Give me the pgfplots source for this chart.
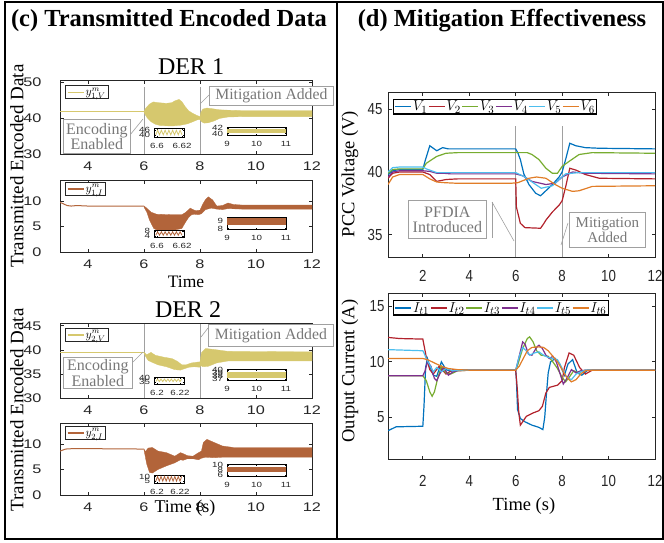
\documentclass[border=0pt]{standalone}
\usepackage{pgfplots}
\pgfplotsset{compat=1.18}
\usepackage{fontspec}
\setmainfont{Liberation Serif}
\newfontfamily\tickL[FakeStretch=1.3]{Liberation Sans}
\newfontfamily\tickR[FakeStretch=0.83]{Liberation Sans}
\definecolor{cY}{RGB}{214,200,110}
\definecolor{cB}{RGB}{178,100,58}
\definecolor{c1}{RGB}{0,114,189}
\definecolor{c2}{RGB}{178,34,44}
\definecolor{c3}{RGB}{119,172,48}
\definecolor{c4}{RGB}{126,47,142}
\definecolor{c5}{RGB}{77,190,238}
\definecolor{c6}{RGB}{225,125,40}
\definecolor{axgray}{RGB}{38,38,38}
\definecolor{anngray}{RGB}{160,160,160}
\definecolor{anntext}{RGB}{120,120,120}
\pgfplotsset{
  legend image code/.code={\draw[#1, line width=1.3pt] (0pt,0pt) -- (16pt,0pt);},
  base/.style={scale only axis, axis line style={axgray, line width=0.9pt},
    every tick/.style={axgray, line width=0.8pt}, major tick length=3.5pt,
    /pgf/number format/assume math mode=true},
  leftax/.style={base, width=252pt, xmin=3, xmax=12, xtick={4,6,8,10,12},
    tick label style={font=\tickL\fontsize{12.5}{13}\selectfont, text=axgray},
    xticklabel style={yshift=-4.5pt}, yticklabel style={xshift=-15pt},
    legend style={anchor=north west, draw=axgray, line width=0.8pt, fill=white,
      inner xsep=1.5pt, inner ysep=0.5pt, font=\fontsize{12}{12}\selectfont,
      nodes={inner sep=1.5pt}, cells={anchor=west}}},
  rightax/.style={base, width=267pt, xmin=0.5, xmax=12, xtick={2,4,6,8,10,12},
    tick label style={font=\tickR\fontsize{16}{16}\selectfont, text=axgray},
    legend columns=6,
    legend style={at={(0.019,0.958)}, anchor=north west, draw=black, line width=1.4pt, fill=white,
      inner xsep=1pt, inner ysep=0.5pt, font=\fontsize{15}{15}\selectfont,
      nodes={inner sep=1pt}, /tikz/every even column/.append style={column sep=0pt}}},
  inset/.style={scale only axis, axis line style={black, line width=1pt},
    every tick/.style={black, line width=0.4pt}, major tick length=1.5pt,
    /pgf/number format/assume math mode=true,
    tick label style={font=\tickL\fontsize{7.5}{7.5}\selectfont, text=axgray},
    xticklabel style={yshift=-2.5pt}, yticklabel style={xshift=-0.5pt}},
}
\begin{document}
\begin{tikzpicture}
\useasboundingbox (0pt,0pt) rectangle (664pt,-542pt);
% ---------------- P1: DER1 V
\begin{axis}[leftax, at={(60pt,-154pt)}, anchor=south west, height=74pt,
  ymin=30, ymax=50.6, ytick={30,40,50}, legend style={at={(0.02,0.93)}}]
\draw[anngray, line width=0.6pt] (axis cs:6,30) -- (axis cs:6,48.6);
\draw[anngray, line width=0.6pt] (axis cs:8,30) -- (axis cs:8,48.6);
\addplot[cY, line width=1pt] coordinates {(3,41.9)(6,41.9)};
\addlegendentry{$y^{m}_{1,V}$}
\addplot[fill=cY, draw=cY, line width=0.3pt, forget plot] coordinates {
(6.0,41.9)(6.05,42.6)(6.1,43.1)(6.2,43.9)(6.33,44.5)(6.5,44.3)(6.8,44.1)(7.0,44.3)(7.1,44.8)(7.25,45.2)(7.35,44.6)(7.48,43.1)(7.6,42.0)(7.7,41.5)(7.87,40.8)(8.0,40.4)(8.03,41.6)(8.1,42.5)(8.25,42.8)(8.45,42.6)(8.7,42.3)(9.0,42.2)(9.5,42.1)(12,42.1)
(12,40.4)(9.5,40.4)(9.0,40.3)(8.7,39.9)(8.5,39.2)(8.3,38.7)(8.15,38.6)(8.05,39.0)(8.0,39.6)(7.9,39.5)(7.75,39.0)(7.55,38.4)(7.3,38.0)(7.0,37.8)(6.6,37.9)(6.4,38.3)(6.25,39.0)(6.12,40.0)(6.04,41.0)(6.0,41.6)};
\end{axis}
\begin{axis}[inset, at={(154pt,-137pt)}, anchor=south west, width=30pt, height=9pt,
  xmin=6.5976, xmax=6.6216, ymin=37, ymax=49, xtick={6.6,6.62}, xticklabels={6.6,6.62}, ytick={40,46}]
\addplot[cY, line width=0.8pt] coordinates {(6.599,40)(6.6005,46)(6.602,40)(6.6035,46)(6.605,40)(6.6065,46)(6.608,40)(6.6095,46)(6.611,40)(6.6125,46)(6.614,40)(6.6155,46)(6.617,40)(6.6185,46)(6.620,40)};
\end{axis}
\begin{axis}[inset, at={(227pt,-135pt)}, anchor=south west, width=59pt, height=8pt,
  xmin=9, xmax=11, ymin=39.5, ymax=42.5, xtick={9,10,11}, ytick={40,42}]
\addplot[fill=cY, draw=none] coordinates {(9,40.4)(11,40.4)(11,41.6)(9,41.6)};
\end{axis}
% ---------------- P2: DER1 I
\begin{axis}[leftax, at={(60pt,-252pt)}, anchor=south west, height=72pt,
  ymin=0, ymax=14.1, ytick={0,5,10}, legend style={at={(0.02,0.972)}}]
\addplot[cB, line width=1pt] coordinates {(3,9.7)(3.1,9.5)(3.25,9.1)(3.4,9.0)(3.6,9.1)(4,9.0)(6.0,9.0)};
\addlegendentry{$y^{m}_{1,I}$}
\addplot[fill=cB, draw=cB, line width=0.3pt, forget plot] coordinates {
(6.0,9.0)(6.1,8.6)(6.25,7.8)(6.45,7.4)(7.0,7.3)(7.35,7.3)(7.5,7.8)(7.65,8.6)(7.75,8.3)(7.85,8.1)(8.0,8.2)(8.1,9.4)(8.2,10.3)(8.3,10.8)(8.45,10.2)(8.6,9.0)(8.8,9.1)(9.0,9.6)(9.2,9.3)(9.5,9.2)(12,9.2)
(12,8.4)(9.5,8.4)(9.0,8.5)(8.8,8.3)(8.6,8.4)(8.4,8.6)(8.2,8.3)(8.05,7.5)(7.95,7.3)(7.8,7.4)(7.7,7.3)(7.6,6.8)(7.5,6.0)(7.35,4.6)(7.0,4.2)(6.5,4.2)(6.35,4.6)(6.2,6.2)(6.1,7.8)(6.0,8.8)};
\end{axis}
\begin{axis}[inset, at={(154pt,-237pt)}, anchor=south west, width=30pt, height=7pt,
  xmin=6.5976, xmax=6.6216, ymin=3, ymax=9, xtick={6.6,6.62}, xticklabels={6.6,6.62}, ytick={4,8}]
\addplot[cB, line width=0.8pt] coordinates {(6.599,4.5)(6.6005,7.5)(6.602,4.5)(6.6035,7.5)(6.605,4.5)(6.6065,7.5)(6.608,4.5)(6.6095,7.5)(6.611,4.5)(6.6125,7.5)(6.614,4.5)(6.6155,7.5)(6.617,4.5)(6.6185,7.5)(6.620,4.5)};
\end{axis}
\begin{axis}[inset, at={(227pt,-229pt)}, anchor=south west, width=59pt, height=12pt,
  xmin=9, xmax=11, ymin=7.95, ymax=9.43, xtick={9,10,11}, ytick={8,9}]
\addplot[fill=cB, draw=none] coordinates {(9,8.4)(11,8.4)(11,9.28)(9,9.28)};
\end{axis}
% ---------------- P3: DER2 V
\begin{axis}[leftax, at={(60pt,-398pt)}, anchor=south west, height=75pt,
  ymin=30, ymax=45.6, ytick={30,35,40,45}, legend style={at={(0.02,0.933)}}]
\draw[anngray, line width=0.6pt] (axis cs:6,30) -- (axis cs:6,45.3);
\draw[anngray, line width=0.6pt] (axis cs:8,30) -- (axis cs:8,45.3);
\addplot[cY, line width=1pt] coordinates {(3,39.5)(6,39.5)};
\addlegendentry{$y^{m}_{2,V}$}
\addplot[fill=cY, draw=cY, line width=0.3pt, forget plot] coordinates {
(6.0,39.5)(6.1,39.0)(6.25,39.5)(6.4,38.9)(6.7,38.5)(7.0,38.2)(7.2,37.6)(7.35,36.9)(7.5,36.9)(7.7,37.3)(7.95,37.5)(8.0,37.5)(8.05,39.4)(8.2,40.3)(8.5,40.1)(9.0,39.7)(12,39.6)
(12,37.7)(9.0,37.7)(8.6,37.3)(8.3,36.6)(8.1,36.5)(8.02,36.8)(8.0,36.4)(7.8,36.5)(7.6,36.4)(7.45,36.1)(7.3,35.8)(7.1,35.9)(6.8,36.5)(6.5,36.9)(6.3,37.4)(6.15,37.8)(6.05,38.7)(6.0,39.4)};
\end{axis}
\begin{axis}[inset, at={(154pt,-384pt)}, anchor=south west, width=30pt, height=7pt,
  xmin=6.1974, xmax=6.2235, ymin=33, ymax=41.5, xtick={6.2,6.22}, xticklabels={6.2,6.22}, ytick={35,40}]
\addplot[cY, line width=0.8pt] coordinates {(6.199,36)(6.2005,39)(6.202,36)(6.2035,39)(6.205,36)(6.2065,39)(6.208,36)(6.2095,39)(6.211,36)(6.2125,39)(6.214,36)(6.2155,39)(6.217,36)(6.2185,39)(6.220,36)(6.2215,39)};
\end{axis}
\begin{axis}[inset, at={(227pt,-380pt)}, anchor=south west, width=59pt, height=11pt,
  xmin=9, xmax=11, ymin=36.7, ymax=40.3, xtick={9,10,11}, ytick={37,38,39,40}]
\addplot[fill=cY, draw=none] coordinates {(9,37.3)(11,37.3)(11,39.4)(9,39.4)};
\end{axis}
% ---------------- P4: DER2 I
\begin{axis}[leftax, at={(60pt,-495pt)}, anchor=south west, height=72pt,
  ymin=0, ymax=14.1, ytick={0,5,10}, legend style={at={(0.02,0.96)}}]
\addplot[cB, line width=1pt] coordinates {(3,8.6)(3.2,9.0)(3.5,9.1)(6,9.0)};
\addlegendentry{$y^{m}_{2,I}$}
\addplot[fill=cB, draw=cB, line width=0.3pt, forget plot] coordinates {
(6.0,9.0)(6.05,8.5)(6.15,9.2)(6.3,9.3)(6.5,8.6)(6.8,8.3)(7.1,7.6)(7.3,8.3)(7.4,8.1)(7.55,7.7)(7.75,7.6)(7.95,8.3)(8.05,8.6)(8.12,10.3)(8.25,10.9)(8.5,10.3)(8.8,9.6)(9.2,9.3)(12,9.3)
(12,7.4)(9.2,7.4)(8.8,7.4)(8.5,7.3)(8.2,7.4)(8.05,7.2)(7.95,6.9)(7.75,7.1)(7.55,7.1)(7.4,6.8)(7.3,6.9)(7.1,6.3)(6.8,5.7)(6.5,5.0)(6.3,4.3)(6.2,4.4)(6.1,6.0)(6.0,8.8)};
\end{axis}
\begin{axis}[inset, at={(154pt,-483pt)}, anchor=south west, width=30pt, height=8pt,
  xmin=6.1974, xmax=6.2235, ymin=3, ymax=11.5, xtick={6.2,6.22}, xticklabels={6.2,6.22}, ytick={5,10}]
\addplot[cB, line width=0.8pt] coordinates {(6.199,5)(6.2005,10)(6.202,5)(6.2035,10)(6.205,5)(6.2065,10)(6.208,5)(6.2095,10)(6.211,5)(6.2125,10)(6.214,5)(6.2155,10)(6.217,5)(6.2185,10)(6.220,5)(6.2215,10)};
\end{axis}
\begin{axis}[inset, at={(227pt,-476pt)}, anchor=south west, width=59pt, height=12pt,
  xmin=9, xmax=11, ymin=5.6, ymax=10.4, xtick={9,10,11}, ytick={6,8,10}]
\addplot[fill=cB, draw=none] coordinates {(9,7.1)(11,7.1)(11,9.1)(9,9.1)};
\end{axis}
% ---------------- P5: PCC voltage
\begin{axis}[rightax, at={(388pt,-257pt)}, anchor=south west, height=165pt,
  ymin=33.2, ymax=46.4, ytick={35,40,45}, xticklabel style={yshift=-10pt}, yticklabel style={xshift=-2pt}]
\draw[anngray, line width=0.6pt] (axis cs:6,33.2) -- (axis cs:6,43.7);
\draw[anngray, line width=0.6pt] (axis cs:8,33.2) -- (axis cs:8,43.7);
\addplot[c1, line width=1.2pt] coordinates {(0.5,39.8)(0.7,40.1)(1,40.2)(2,40.2)(2.1,40.9)(2.3,42.1)(2.45,41.9)(2.6,41.7)(2.85,41.95)(3.1,41.85)(6.0,41.85)(6.1,41.5)(6.2,41.0)(6.35,39.85)(6.57,39.0)(6.86,38.3)(7.07,38.1)(7.3,38.5)(7.58,39.0)(7.87,39.6)(8.0,40.0)(8.15,41.0)(8.33,42.3)(8.59,42.1)(9.0,41.95)(9.6,41.9)(12,41.85)};
\addlegendentry{$V_1$}
\addplot[c2, line width=1.2pt] coordinates {(0.5,39.5)(0.7,39.9)(1,40.0)(2,40.0)(2.3,39.8)(2.6,39.25)(3.0,39.4)(3.5,39.45)(6.0,39.45)(6.03,37.2)(6.2,35.9)(6.4,35.55)(7.07,35.5)(7.22,35.9)(7.3,36.15)(7.58,36.8)(7.87,37.35)(8.0,37.7)(8.15,38.8)(8.33,40.3)(8.6,40.15)(9.0,39.8)(9.6,39.5)(12,39.45)};
\addlegendentry{$V_2$}
\addplot[c3, line width=1.2pt] coordinates {(0.5,39.9)(0.7,40.2)(1,40.25)(2,40.25)(2.15,40.7)(2.6,41.25)(3.0,41.5)(3.5,41.55)(6.5,41.55)(6.7,41.4)(7.0,41.0)(7.3,40.3)(7.58,39.9)(7.8,39.9)(8.0,40.45)(8.3,40.85)(8.73,41.4)(9.3,41.55)(12,41.5)};
\addlegendentry{$V_3$}
\addplot[c4, line width=1.2pt] coordinates {(0.5,39.6)(0.7,40.0)(1,40.1)(2,40.1)(2.3,40.05)(2.6,39.9)(2.9,39.9)(3.2,39.85)(6.0,39.85)(6.3,39.7)(6.7,39.25)(7.3,39.0)(7.7,39.1)(8.0,39.6)(8.45,40.0)(9.0,39.9)(12,39.85)};
\addlegendentry{$V_4$}
\addplot[c5, line width=1.2pt] coordinates {(0.5,40.0)(0.7,40.35)(1,40.4)(2,40.4)(2.15,40.25)(2.6,39.95)(6.0,39.95)(6.4,39.6)(6.86,39.0)(7.1,38.7)(7.58,38.9)(7.87,39.4)(8.15,39.85)(8.7,39.95)(12,39.95)};
\addlegendentry{$V_5$}
\addplot[c6, line width=1.2pt] coordinates {(0.5,39.0)(0.7,39.6)(1,39.8)(2,39.8)(2.3,39.45)(2.6,39.2)(2.9,39.15)(3.45,39.1)(5.8,39.1)(6.1,39.15)(6.57,39.5)(6.9,39.6)(7.3,39.5)(7.7,39.0)(8.0,38.7)(8.45,38.45)(8.73,38.5)(9.3,38.85)(12,38.9)};
\addlegendentry{$V_6$}
\end{axis}
% ---------------- P6: Output current
\begin{axis}[rightax, at={(388pt,-459pt)}, anchor=south west, height=166pt,
  ymin=1.25, ymax=16.2, ytick={5,10,15}, xticklabel style={yshift=-13pt}]
\addplot[c1, line width=1.2pt] coordinates {(0.5,3.8)(0.85,4.15)(2.0,4.2)(2.05,6.0)(2.12,9.5)(2.2,10.3)(2.3,9.6)(2.45,8.8)(2.6,8.7)(2.8,10.0)(3.0,9.3)(3.2,9.15)(3.5,9.3)(4,9.25)(6.0,9.25)(6.03,8.4)(6.08,5.7)(6.2,4.9)(6.4,4.6)(6.7,4.3)(7.0,4.1)(7.17,3.9)(7.25,5.0)(7.32,7.0)(7.4,9.0)(7.5,10.0)(7.7,10.3)(7.9,9.8)(8.1,8.8)(8.25,9.8)(8.45,10.2)(8.65,9.0)(8.85,8.8)(9.1,9.25)(12,9.25)};
\addlegendentry{$I_{t1}$}
\addplot[c2, line width=1.2pt] coordinates {(0.5,12.2)(1,12.1)(2.0,12.05)(2.05,11.5)(2.17,10.2)(2.3,9.3)(2.45,8.9)(2.7,9.6)(3.0,8.9)(3.3,9.3)(3.6,9.2)(4,9.25)(6.0,9.25)(6.07,7.5)(6.13,5.5)(6.2,4.3)(6.3,4.6)(6.46,5.1)(6.75,5.4)(7.0,5.6)(7.15,6.0)(7.3,7.2)(7.45,7.7)(7.8,7.9)(8.0,8.3)(8.1,9.5)(8.3,10.8)(8.5,10.6)(8.75,9.5)(9.0,8.9)(9.3,9.25)(12,9.25)};
\addlegendentry{$I_{t2}$}
\addplot[c3, line width=1.2pt] coordinates {(0.5,8.75)(2.0,8.75)(2.15,8.3)(2.3,7.3)(2.4,6.9)(2.5,7.3)(2.65,8.6)(2.8,9.6)(3.0,9.0)(3.2,8.9)(3.5,9.2)(4,9.25)(6.0,9.25)(6.1,9.8)(6.3,11.2)(6.5,12.1)(6.6,12.25)(6.75,11.8)(6.9,11.0)(7.1,10.6)(7.4,10.5)(7.6,10.0)(7.8,9.4)(8.0,8.6)(8.15,8.2)(8.3,8.6)(8.5,9.2)(8.7,9.0)(9.0,9.25)(12,9.25)};
\addlegendentry{$I_{t3}$}
\addplot[c4, line width=1.2pt] coordinates {(0.5,8.75)(2.0,8.75)(2.1,9.2)(2.2,10.0)(2.35,9.6)(2.5,8.5)(2.6,8.3)(2.75,9.0)(2.9,9.5)(3.1,8.8)(3.3,9.1)(3.6,9.25)(6.0,9.25)(6.15,10.5)(6.3,11.8)(6.4,11.6)(6.55,10.7)(6.7,10.6)(6.9,11.3)(7.0,11.5)(7.15,11.2)(7.3,10.6)(7.45,10.3)(7.6,10.5)(7.75,10.0)(7.9,9.0)(8.05,8.0)(8.2,8.5)(8.4,9.3)(8.6,9.0)(8.8,9.2)(9.0,9.25)(12,9.25)};
\addlegendentry{$I_{t4}$}
\addplot[c5, line width=1.2pt] coordinates {(0.5,11.1)(2.0,11.0)(2.05,10.8)(2.15,10.3)(2.3,9.7)(2.45,9.1)(2.6,9.5)(2.8,9.1)(3.0,9.4)(3.3,9.2)(3.6,9.25)(6.0,9.25)(6.15,10.5)(6.3,11.3)(6.45,11.0)(6.6,10.6)(6.8,10.8)(7.0,10.9)(7.2,10.6)(7.4,10.4)(7.6,10.3)(7.8,10.2)(8.0,9.4)(8.2,8.6)(8.4,8.4)(8.6,8.9)(8.8,9.1)(9.0,9.25)(12,9.25)};
\addlegendentry{$I_{t5}$}
\addplot[c6, line width=1.2pt] coordinates {(0.5,10.3)(2.0,10.3)(2.2,10.2)(2.5,9.9)(2.8,9.6)(3.1,9.4)(3.5,9.3)(4,9.25)(6.0,9.25)(6.15,9.6)(6.3,10.2)(6.5,11.0)(6.7,11.3)(7.0,11.35)(7.2,11.3)(7.4,11.0)(7.6,10.5)(7.8,10.0)(8.0,9.3)(8.2,8.6)(8.4,8.2)(8.6,8.4)(8.8,8.9)(9.0,9.2)(9.3,9.25)(12,9.25)};
\addlegendentry{$I_{t6}$}
\end{axis}
% ---------------- annotations
\begin{scope}[anngray, line width=0.6pt]
\draw (130pt,-135pt) -- (143pt,-119pt);
\draw (200pt,-104pt) -- (209pt,-95pt);
\draw (133pt,-362pt) -- (143pt,-352pt);
\draw (201pt,-337pt) -- (208pt,-328pt);
\draw (492pt,-202pt) -- (492pt,-238pt);
\draw (492pt,-202pt) -- (514pt,-241pt);
\draw (561pt,-245pt) -- (568pt,-223pt);
\end{scope}
\tikzset{ann/.style={draw=anngray, line width=0.7pt, fill=white, text=anntext, align=center, inner sep=0pt, anchor=north west}}
\node[ann, minimum width=67pt, minimum height=34pt, font=\fontsize{16}{13.5}\selectfont] at (63pt,-119pt) {Encoding\\Enabled};
\node[ann, minimum width=124pt, minimum height=19pt, font=\fontsize{15.7}{15}\selectfont] at (209pt,-86pt) {Mitigation Added};
\node[ann, minimum width=69pt, minimum height=31pt, font=\fontsize{16}{13.5}\selectfont] at (63pt,-357pt) {Encoding\\Enabled};
\node[ann, minimum width=125pt, minimum height=22pt, font=\fontsize{15.7}{15}\selectfont] at (208pt,-324pt) {Mitigation Added};
\node[ann, minimum width=78pt, minimum height=38pt, font=\fontsize{16}{15}\selectfont] at (408pt,-200pt) {PFDIA\\Introduced};
\node[ann, minimum width=76pt, minimum height=35pt, font=\fontsize{15}{15}\selectfont] at (569pt,-212pt) {Mitigation\\Added};
% ---------------- titles and labels
\node[font=\bfseries\fontsize{24.5}{25}\selectfont] at (169pt,-21pt) {(c) Transmitted Encoded Data};
\node[font=\bfseries\fontsize{24.5}{25}\selectfont] at (502pt,-21pt) {(d) Mitigation Effectiveness};
\node[font=\fontsize{24}{24}\selectfont] at (191pt,-67pt) {DER 1};
\node[font=\fontsize{24}{24}\selectfont] at (188pt,-310pt) {DER 2};
\node[font=\fontsize{17.5}{18}\selectfont] at (186pt,-282pt) {Time};
\node[font=\fontsize{18}{18}\selectfont] at (185pt,-508pt) {Time (s)};
\node[font=\fontsize{18.5}{19}\selectfont] at (524pt,-506pt) {Time (s)};
\node[rotate=90, font=\fontsize{19}{19}\selectfont] at (17pt,-166pt) {Transmitted Encoded Data};
\node[rotate=90, font=\fontsize{19}{19}\selectfont] at (17pt,-410pt) {Transmitted Encoded Data};
\node[rotate=90, font=\fontsize{18.5}{19}\selectfont] at (350pt,-174pt) {PCC Voltage (V)};
\node[rotate=90, font=\fontsize{18.5}{19}\selectfont] at (350pt,-371pt) {Output Current (A)};
% ---------------- frames
\draw[line width=1.4pt] (5pt,-2pt) rectangle (663pt,-539pt);
\draw[line width=1.4pt] (337pt,-2pt) -- (337pt,-539pt);
\end{tikzpicture}
\end{document}
